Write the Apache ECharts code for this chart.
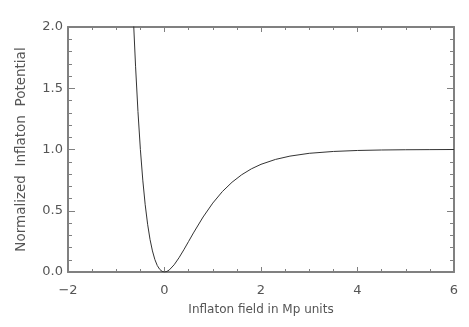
<!DOCTYPE html>
<html>
<head>
<meta charset="utf-8">
<script src="https://cdn.jsdelivr.net/npm/echarts@6/dist/echarts.min.js"></script>
<style>
  html, body { margin: 0; padding: 0; background: #fff; }
  #chart { width: 469px; height: 327px; }
</style>
</head>
<body>
<div id="chart"></div>
<script>
// values
const fieldValues = [-0.66, -0.6, -0.55, -0.5, -0.45, -0.4, -0.35, -0.3, -0.25, -0.2, -0.15, -0.1, -0.05, 0,
  0.05, 0.1, 0.2, 0.3, 0.4, 0.5, 0.6, 0.8, 1.0, 1.2, 1.4, 1.6, 1.8, 2.0, 2.3, 2.6, 3.0, 3.5, 4.0, 4.5, 5.0, 5.5, 6.0]
const potentialValues = [2.2, 1.68, 1.31, 1.0, 0.75, 0.549, 0.39, 0.266, 0.172, 0.102, 0.053, 0.022, 0.005, 0,
  0.0045, 0.017, 0.059, 0.116, 0.181, 0.25, 0.319, 0.449, 0.5625, 0.657, 0.733, 0.794, 0.842, 0.879, 0.919, 0.946, 0.969, 0.984, 0.992, 0.996, 0.998, 0.999, 1.0]
const xTicks = [-2, 0, 2, 4, 6]
const yTicks = [0, 0.5, 1.0, 1.5, 2.0]

const axisColor = '#808080'
const textColor = '#555'
const fontFamily = 'DejaVu Sans'

const chart = echarts.init(document.getElementById('chart'), null, { renderer: 'canvas' })

function xAxisBase(show) {
  return {
    type: 'value',
    min: xTicks[0],
    max: xTicks[xTicks.length - 1],
    interval: 2,
    axisLine: { show: true, onZero: false, lineStyle: { color: axisColor, width: 2 } },
    axisTick: { show: true, inside: true, length: 5, lineStyle: { color: axisColor } },
    minorTick: { show: true, splitNumber: 4, length: 3, lineStyle: { color: axisColor } },
    splitLine: { show: false },
    axisLabel: {
      show: show,
      color: textColor,
      fontFamily: fontFamily,
      fontSize: 13,
      margin: 12,
      formatter: v => String(v).replace('-', '\u2212')
    }
  }
}

function yAxisBase(show) {
  return {
    type: 'value',
    min: yTicks[0],
    max: yTicks[yTicks.length - 1],
    interval: 0.5,
    axisLine: { show: true, onZero: false, lineStyle: { color: axisColor, width: 2 } },
    axisTick: { show: true, inside: true, length: 7, lineStyle: { color: axisColor } },
    minorTick: { show: true, splitNumber: 5, length: 4, lineStyle: { color: axisColor } },
    splitLine: { show: false },
    axisLabel: {
      show: show,
      color: textColor,
      fontFamily: fontFamily,
      fontSize: 13,
      margin: 5,
      formatter: v => v.toFixed(1)
    }
  }
}

const option = {
  animation: false,
  backgroundColor: '#fff',
  grid: { left: 68, right: 15, top: 27, bottom: 55 },
  xAxis: [
    Object.assign(xAxisBase(true), {
      position: 'bottom',
      name: 'Inflaton field in Mp units',
      nameLocation: 'middle',
      nameGap: 32,
      nameTextStyle: { color: textColor, fontFamily: fontFamily, fontSize: 12 }
    }),
    Object.assign(xAxisBase(false), { position: 'top' })
  ],
  yAxis: [
    Object.assign(yAxisBase(true), {
      position: 'left',
      name: 'Normalized  Inflaton  Potential',
      nameLocation: 'middle',
      nameGap: 40,
      nameTextStyle: { color: textColor, fontFamily: fontFamily, fontSize: 13.5 }
    }),
    Object.assign(yAxisBase(false), { position: 'right' })
  ],
  series: [{
    type: 'line',
    data: fieldValues.map((x, i) => [x, potentialValues[i]]),
    showSymbol: false,
    smooth: false,
    clip: true,
    lineStyle: { color: '#333', width: 1 }
  }]
}

chart.setOption(option)
</script>
</body>
</html>
